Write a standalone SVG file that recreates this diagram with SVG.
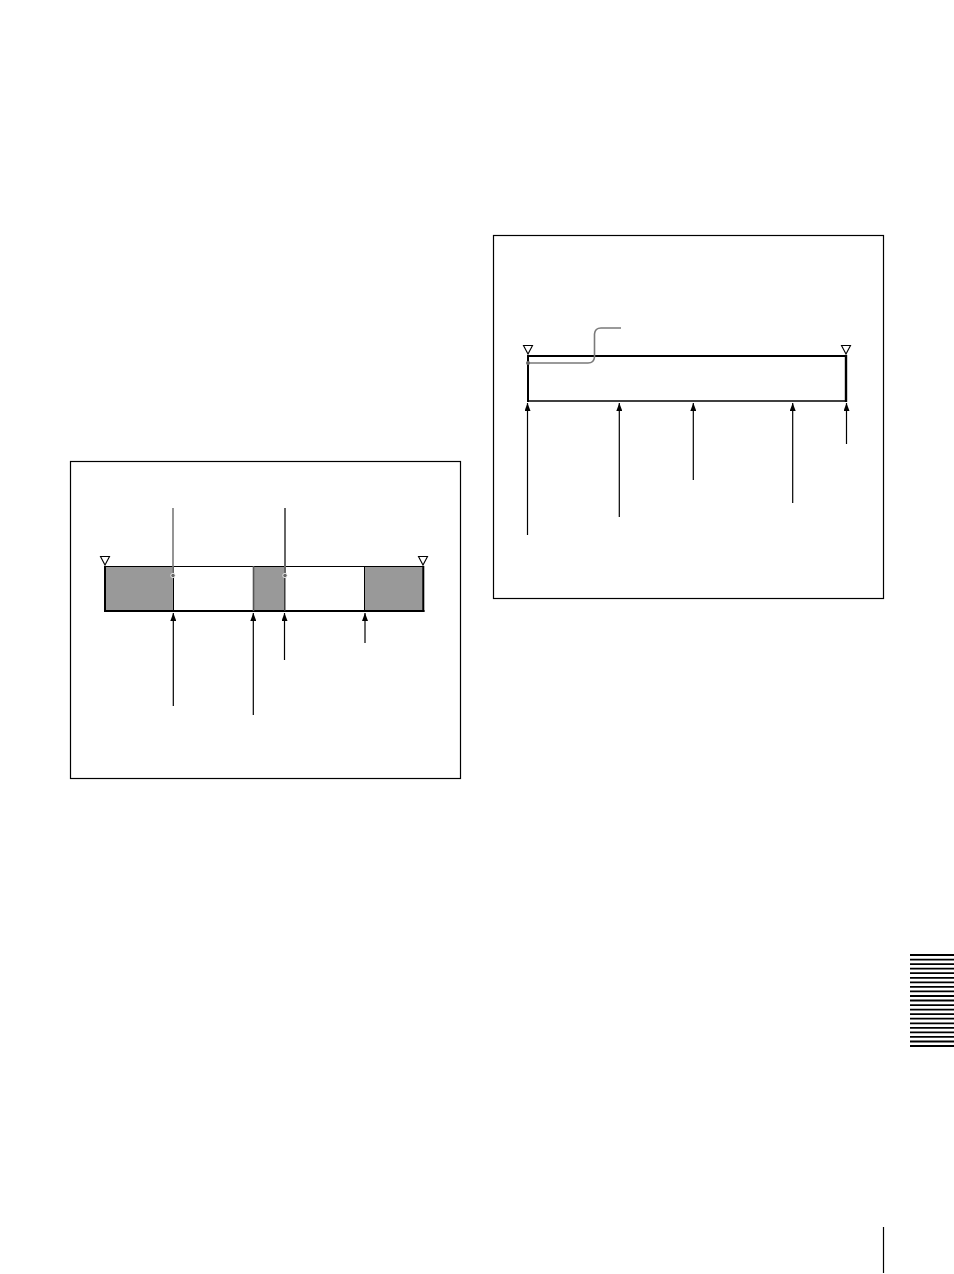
<svg xmlns="http://www.w3.org/2000/svg" width="954" height="1274" viewBox="0 0 954 1274">
<style>
.frame{fill:none;stroke:#000;stroke-width:1.2}
.tri{fill:#fff;stroke:#000;stroke-width:1.1}
.gray{fill:#999}
.arr{stroke:#000;stroke-width:1.2;fill:none;marker-end:url(#ah)}
.lead{fill:none;stroke:#7a7a7a;stroke-width:1.6}
.stripe{stroke:#000;stroke-width:1.8}
</style>
<defs>
<marker id="ah" viewBox="0 0 8 6" refX="8" refY="3" markerWidth="8" markerHeight="6" markerUnits="userSpaceOnUse" orient="auto">
<path d="M0,0 L8,3 L0,6 Z" fill="#000"/>
</marker>
</defs>
<rect width="954" height="1274" fill="#fff"/>

<g id="left-panel">
<rect class="frame" x="70.5" y="461.5" width="390" height="317"/>
<g id="left-bar">
<rect x="105" y="566" width="318.5" height="45.5" fill="#fff"/>
<rect class="gray" x="105" y="566" width="68" height="45.5"/>
<rect class="gray" x="253" y="566" width="32" height="45.5"/>
<rect class="gray" x="364" y="566" width="59.5" height="45.5"/>
<line x1="105" y1="566.5" x2="423.5" y2="566.5" stroke="#000" stroke-width="1.2"/>
<line x1="104" y1="611" x2="424.5" y2="611" stroke="#000" stroke-width="2.2"/>
<line x1="105" y1="566" x2="105" y2="612" stroke="#000" stroke-width="2"/>
<line x1="423.3" y1="566" x2="423.3" y2="612" stroke="#000" stroke-width="2"/>
<line x1="173.5" y1="566" x2="173.5" y2="611" stroke="#000" stroke-width="1"/>
<line x1="253.5" y1="566" x2="253.5" y2="611" stroke="#555" stroke-width="1.6"/>
<line x1="284.8" y1="566" x2="284.8" y2="611" stroke="#333" stroke-width="1.4"/>
<line x1="364.5" y1="566" x2="364.5" y2="611" stroke="#000" stroke-width="1"/>
<polygon class="tri" points="100.5,556.5 109.5,556.5 105,565"/>
<polygon class="tri" points="418.5,556.5 427.5,556.5 423,565"/>
</g>
<g id="left-leaders">
<line class="lead" x1="173" y1="508" x2="173" y2="575"/>
<circle cx="173" cy="575.5" r="2.2" fill="#666" stroke="#fff" stroke-width="0.8"/>
<line x1="285" y1="508" x2="285" y2="575" stroke="#666" stroke-width="2"/>
<circle cx="285" cy="575.5" r="2.2" fill="#666" stroke="#fff" stroke-width="0.8"/>
</g>
</g>

<g id="right-panel">
<rect class="frame" x="493.5" y="235.5" width="390" height="363"/>
<g id="right-bar">
<line x1="527" y1="356" x2="847" y2="356" stroke="#000" stroke-width="2.2"/>
<line x1="527" y1="401" x2="847" y2="401" stroke="#000" stroke-width="1.6"/>
<line x1="528" y1="355" x2="528" y2="402" stroke="#000" stroke-width="2"/>
<line x1="846" y1="355" x2="846" y2="402" stroke="#000" stroke-width="2.4"/>
<polygon class="tri" points="523.5,345.5 532.5,345.5 528,354"/>
<polygon class="tri" points="841.5,345.5 850.5,345.5 846,354"/>
</g>
<g id="right-leader">
<path class="lead" d="M528,363 H588 Q594,363 594.5,357 V334 Q595,328 601,328 H621"/>
<circle cx="528" cy="363" r="2" fill="#666"/>
</g>
</g>

<g id="connectors">
<line class="arr" x1="173.3" y1="706" x2="173.3" y2="613"/>
<line class="arr" x1="253.3" y1="715" x2="253.3" y2="613"/>
<line class="arr" x1="284.5" y1="660" x2="284.5" y2="613"/>
<line class="arr" x1="365" y1="643" x2="365" y2="613"/>
<line class="arr" x1="527.5" y1="535" x2="527.5" y2="403"/>
<line class="arr" x1="619.3" y1="517" x2="619.3" y2="403"/>
<line class="arr" x1="693.3" y1="480" x2="693.3" y2="403"/>
<line class="arr" x1="792.7" y1="503" x2="792.7" y2="403"/>
<line class="arr" x1="846.5" y1="444" x2="846.5" y2="403"/>
</g>

<g id="side-tab">
<line class="stripe" x1="910" y1="955" x2="954" y2="955"/>
<line class="stripe" x1="910" y1="959.6" x2="954" y2="959.6"/>
<line class="stripe" x1="910" y1="964.1" x2="954" y2="964.1"/>
<line class="stripe" x1="910" y1="968.7" x2="954" y2="968.7"/>
<line class="stripe" x1="910" y1="973.2" x2="954" y2="973.2"/>
<line class="stripe" x1="910" y1="977.8" x2="954" y2="977.8"/>
<line class="stripe" x1="910" y1="982.3" x2="954" y2="982.3"/>
<line class="stripe" x1="910" y1="986.9" x2="954" y2="986.9"/>
<line class="stripe" x1="910" y1="991.4" x2="954" y2="991.4"/>
<line class="stripe" x1="910" y1="996" x2="954" y2="996"/>
<line class="stripe" x1="910" y1="1000.5" x2="954" y2="1000.5"/>
<line class="stripe" x1="910" y1="1005.1" x2="954" y2="1005.1"/>
<line class="stripe" x1="910" y1="1009.6" x2="954" y2="1009.6"/>
<line class="stripe" x1="910" y1="1014.2" x2="954" y2="1014.2"/>
<line class="stripe" x1="910" y1="1018.7" x2="954" y2="1018.7"/>
<line class="stripe" x1="910" y1="1023.3" x2="954" y2="1023.3"/>
<line class="stripe" x1="910" y1="1027.8" x2="954" y2="1027.8"/>
<line class="stripe" x1="910" y1="1032.4" x2="954" y2="1032.4"/>
<line class="stripe" x1="910" y1="1036.9" x2="954" y2="1036.9"/>
<line class="stripe" x1="910" y1="1041.5" x2="954" y2="1041.5"/>
<line class="stripe" x1="910" y1="1046" x2="954" y2="1046"/>
</g>
<line x1="883.5" y1="1227" x2="883.5" y2="1273" stroke="#000" stroke-width="1.2"/>
</svg>
